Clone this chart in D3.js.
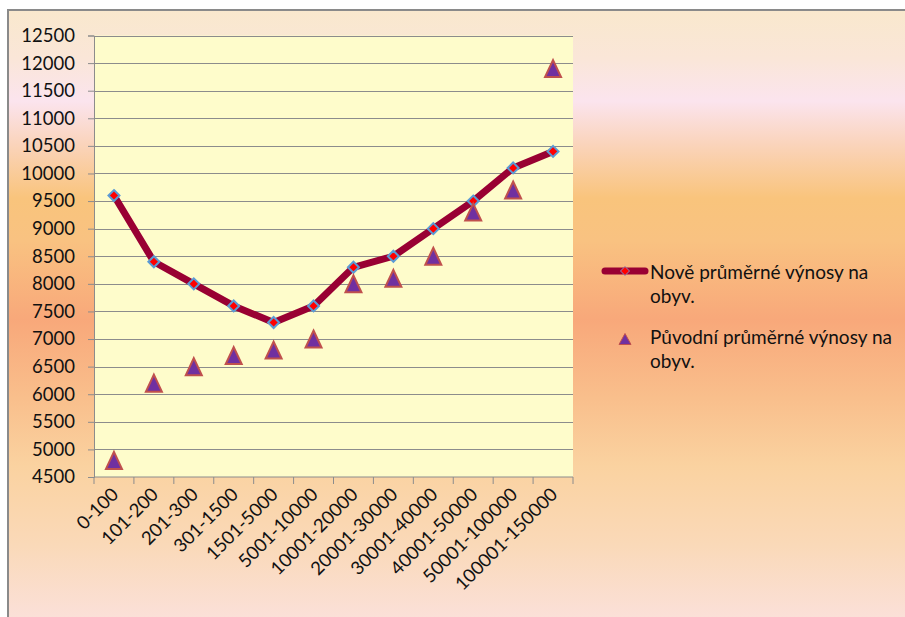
<!DOCTYPE html>
<html>
<head>
<meta charset="utf-8">
<script src="https://cdn.jsdelivr.net/npm/d3@7"></script>
<style>
  html, body { margin: 0; padding: 0; background: #ffffff; }
  svg { display: block; }
  text { font-family: Lato, "Open Sans", sans-serif; fill: #111; }
</style>
</head>
<body>
<svg id="chart" width="905" height="617"></svg>
<script>
// Population-size groups of municipalities
const categories = ["0-100", "101-200", "201-300", "301-1500", "1501-5000", "5001-10000",
  "10001-20000", "20001-30000", "30001-40000", "40001-50000", "50001-100000", "100001-150000"];

// New average revenue per inhabitant
const newRevenue = [9600, 8400, 8000, 7600, 7300, 7600, 8300, 8500, 9000, 9500, 10100, 10400];

// Original average revenue per inhabitant
const oldRevenue = [4800, 6200, 6500, 6700, 6800, 7000, 8000, 8100, 8500, 9300, 9700, 11900];

const yTicks = d3.range(4500, 12501, 500);

const seriesNames = ["Nově průměrné výnosy na obyv.", "Původní průměrné výnosy na obyv."];

const W = 905, H = 617;
const plot = { left: 94, right: 573, top: 35.5, bottom: 477 };

const svg = d3.select("#chart");

// Backdrop gradient of the chart area
const defs = svg.append("defs");
const grad = defs.append("linearGradient")
  .attr("id", "bg").attr("gradientUnits", "userSpaceOnUse")
  .attr("x1", 0).attr("y1", 10).attr("x2", 0).attr("y2", 617);
[[0, "#f9e8cd"], [0.08, "#fae6d8"], [0.15, "#fbe4ee"], [0.22, "#fad4bc"],
 [0.31, "#f9c47c"], [0.38, "#f9c281"], [0.51, "#f8a87a"], [0.64, "#f9bf8c"],
 [0.75, "#fad2a0"], [0.88, "#fad9b8"], [1, "#fbe0d8"]]
  .forEach(([o, c]) => grad.append("stop").attr("offset", o).attr("stop-color", c));

svg.append("rect")
  .attr("x", 8).attr("y", 10).attr("width", W + 10).attr("height", H + 10)
  .attr("fill", "url(#bg)").attr("stroke", "#8a8a8a").attr("stroke-width", 2);

const x = d3.scaleBand().domain(categories).range([plot.left, plot.right]);
const y = d3.scaleLinear().domain([4500, 12500]).range([plot.bottom, plot.top]);

// Plot area
svg.append("rect")
  .attr("x", plot.left).attr("y", plot.top)
  .attr("width", plot.right - plot.left).attr("height", plot.bottom - plot.top)
  .attr("fill", "#fefccb");

// Horizontal gridlines
svg.append("g").selectAll("line").data(yTicks.slice(1)).join("line")
  .attr("x1", plot.left).attr("x2", plot.right)
  .attr("y1", d => Math.round(y(d)) + 0.5).attr("y2", d => Math.round(y(d)) + 0.5)
  .attr("stroke", "#8c8c8c").attr("stroke-width", 1);

// Y axis
const yAxis = svg.append("g")
  .attr("transform", `translate(${plot.left},0)`)
  .call(d3.axisLeft(y).tickValues(yTicks).tickSize(6).tickPadding(13).tickFormat(d3.format("d")));
yAxis.select(".domain").attr("stroke", "#8c8c8c");
yAxis.selectAll(".tick line").attr("stroke", "#8c8c8c");
yAxis.selectAll(".tick text").attr("font-size", 18.5).attr("font-family", "Lato, sans-serif").attr("fill", "#111");

// X axis: baseline, ticks on band boundaries, rotated labels
const xg = svg.append("g");
xg.append("line")
  .attr("x1", plot.left).attr("x2", plot.right)
  .attr("y1", plot.bottom).attr("y2", plot.bottom)
  .attr("stroke", "#8c8c8c");
const bounds = categories.map(c => x(c)).concat([x(categories[categories.length - 1]) + x.bandwidth()]);
xg.selectAll("line.tk").data(bounds).join("line").attr("class", "tk")
  .attr("x1", d => d).attr("x2", d => d)
  .attr("y1", plot.bottom).attr("y2", plot.bottom + 7)
  .attr("stroke", "#8c8c8c");
xg.selectAll("text").data(categories).join("text")
  .attr("transform", d => `translate(${x(d) + x.bandwidth() / 2 + 1},${plot.bottom + 14}) rotate(-45)`)
  .attr("text-anchor", "end").attr("dy", "0.35em")
  .attr("font-size", 18.5)
  .text(d => d);

const cx = d => x(d) + x.bandwidth() / 2;

// New revenue line
svg.append("path")
  .datum(newRevenue)
  .attr("fill", "none").attr("stroke", "#990033").attr("stroke-width", 7)
  .attr("stroke-linejoin", "round")
  .attr("d", d3.line().x((d, i) => cx(categories[i])).y(d => y(d)));

// Square diamond marker
const diamondOf = r => ({
  draw(ctx) {
    ctx.moveTo(0, -r);
    ctx.lineTo(r, 0);
    ctx.lineTo(0, r);
    ctx.lineTo(-r, 0);
    ctx.closePath();
  }
});
svg.append("g").selectAll("path").data(newRevenue).join("path")
  .attr("transform", (d, i) => `translate(${cx(categories[i])},${y(d)})`)
  .attr("d", d3.symbol().type(diamondOf(5.5))())
  .attr("fill", "#ff0000").attr("stroke", "#5b9bd5").attr("stroke-width", 2);

// Triangle marker centred on its bounding box
const triangleOf = (w, h) => ({
  draw(ctx) {
    ctx.moveTo(0, -h / 2);
    ctx.lineTo(w / 2, h / 2);
    ctx.lineTo(-w / 2, h / 2);
    ctx.closePath();
  }
});
svg.append("g").selectAll("path").data(oldRevenue).join("path")
  .attr("transform", (d, i) => `translate(${cx(categories[i])},${y(d)})`)
  .attr("d", d3.symbol().type(triangleOf(16, 17))())
  .attr("fill", "#7030a0").attr("stroke", "#c0504d").attr("stroke-width", 2)
  .attr("stroke-linejoin", "miter");

// Legend
const lg = svg.append("g");
lg.append("line")
  .attr("x1", 605).attr("x2", 645).attr("y1", 271).attr("y2", 271)
  .attr("stroke", "#990033").attr("stroke-width", 7).attr("stroke-linecap", "round");
lg.append("path")
  .attr("transform", "translate(625,271)")
  .attr("d", d3.symbol().type(diamondOf(4.5))())
  .attr("fill", "#ff0000").attr("stroke", "#7f8fc0").attr("stroke-width", 1);
lg.append("path")
  .attr("transform", "translate(625,339)")
  .attr("d", d3.symbol().type(triangleOf(12, 11))())
  .attr("fill", "#7030a0").attr("stroke", "#c0504d").attr("stroke-width", 1);

const legendLines = [
  [seriesNames[0].replace(" obyv.", ""), 279],
  ["obyv.", 303],
  [seriesNames[1].replace(" obyv.", ""), 344],
  ["obyv.", 368]
];
lg.selectAll("text").data(legendLines).join("text")
  .attr("x", 650).attr("y", d => d[1])
  .attr("font-size", 19)
  .text(d => d[0]);
</script>
</body>
</html>
